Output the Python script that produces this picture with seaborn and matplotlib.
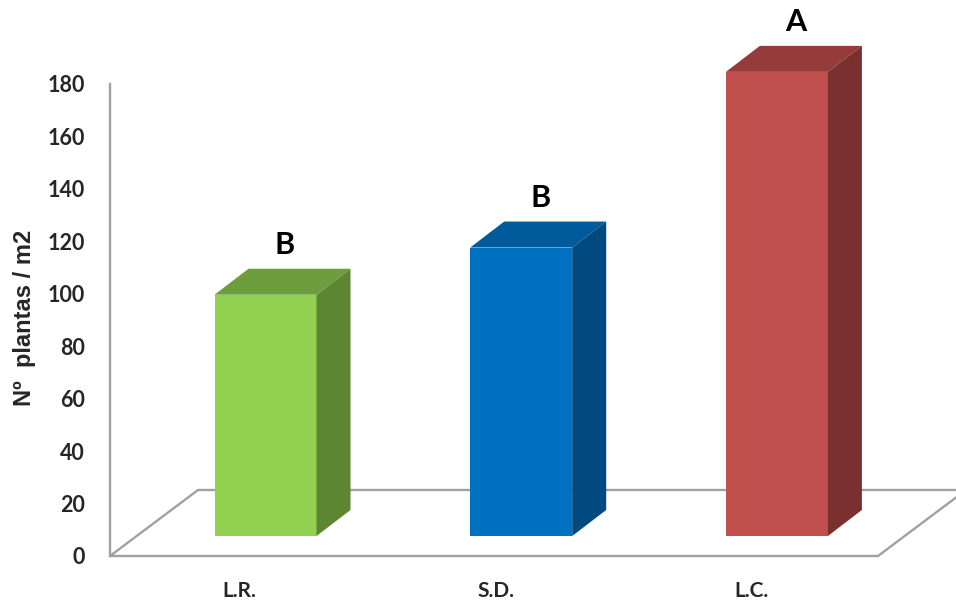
import matplotlib
matplotlib.use("Agg")
import matplotlib.pyplot as plt
import matplotlib.transforms as mtransforms
from matplotlib.patches import Polygon
import seaborn as sns
import pandas as pd

# Plant density per treatment
categories = ["L.R.", "S.D.", "L.C."]
plants = [92, 110, 177]
letters = ["B", "B", "A"]

front_colors = ["#92D050", "#0070C0", "#C0504D"]
top_colors = ["#6E9D3D", "#005A9C", "#953B3A"]
side_colors = ["#5E8532", "#004A80", "#7A302F"]

y_ticks = [0, 20, 40, 60, 80, 100, 120, 140, 160, 180]

df = pd.DataFrame({"tratamiento": categories, "plantas": plants})

sns.set_theme(style="white")
plt.rcParams["font.family"] = ["Lato", "DejaVu Sans"]

W, H = 956, 600
fig = plt.figure(figsize=(W / 100, H / 100), dpi=100)

# axes box in pixels: left spine at x=110, value 0 at y=556
ax_left, ax_bottom = 110, 44
ax_w, ax_h = W - ax_left, H - ax_bottom
ax = fig.add_axes([ax_left / W, ax_bottom / H, ax_w / W, ax_h / H])

px_per_val = 472 / 180.0
px_per_cat = 255.7
first_center_px = 239.8  # centre of first category on the front plane
x0 = -(first_center_px - ax_left) / px_per_cat


def dcat(px):
    return px / px_per_cat


def dval(px):
    return px / px_per_val


# bars: front faces drawn by seaborn, shifted back into the floor
bar_width = 102 / px_per_cat
sns.barplot(data=df, x="tratamiento", y="plantas", hue="tratamiento",
            palette=front_colors, width=bar_width, legend=False,
            linewidth=0, saturation=1, ax=ax, zorder=3)

ax.set_xlim(x0, x0 + ax_w / px_per_cat)
ax.set_ylim(0, ax_h / px_per_val)

# floor of the 3D box
floor_dx, floor_dy = dcat(88), dval(66)
front_right = x0 + (878 - ax_left) / px_per_cat
floor = Polygon([(x0, 0), (front_right, 0),
                 (front_right + floor_dx, floor_dy), (x0 + floor_dx, floor_dy)],
                closed=True, facecolor="white", edgecolor="#A0A0A0",
                linewidth=1.7, zorder=1, clip_on=False)
ax.add_patch(floor)

shift_dx, shift_dy = dcat(25.7), dval(20)
depth_dx, depth_dy = dcat(34), dval(26)
shift = mtransforms.Affine2D().translate(shift_dx, shift_dy) + ax.transData

bars = sorted([p for p in ax.patches if p is not floor], key=lambda p: p.get_x())
for bar, top_c, side_c, letter in zip(bars, top_colors, side_colors, letters):
    bar.set_transform(shift)
    bar.set_clip_on(False)
    xl = bar.get_x()
    xr = xl + bar.get_width()
    h = bar.get_height()
    top = Polygon([(xl, h), (xr, h), (xr + depth_dx, h + depth_dy),
                   (xl + depth_dx, h + depth_dy)], closed=True,
                  facecolor=top_c, edgecolor="none", transform=shift,
                  zorder=3, clip_on=False)
    side = Polygon([(xr, 0), (xr + depth_dx, depth_dy),
                    (xr + depth_dx, h + depth_dy), (xr, h)], closed=True,
                   facecolor=side_c, edgecolor="none", transform=shift,
                   zorder=3, clip_on=False)
    ax.add_patch(top)
    ax.add_patch(side)
    ax.text(xl + bar.get_width() / 2 + depth_dx / 2 + dcat(2), h + depth_dy + dval(10),
            letter, transform=shift, ha="center", va="bottom",
            fontsize=22, fontweight="bold", color="black", zorder=5)

# axes styling
for s in ["top", "right", "bottom"]:
    ax.spines[s].set_visible(False)
ax.spines["left"].set_color("#A0A0A0")
ax.spines["left"].set_linewidth(1.7)
ax.spines["left"].set_bounds(0, 180)
ax.set_yticks(y_ticks)
ax.set_yticklabels([str(v) for v in y_ticks], fontsize=15.5, fontweight="bold")
ax.tick_params(axis="y", length=0, pad=18)
ax.tick_params(axis="x", length=0, pad=18)
ax.set_xticks(range(len(categories)))
ax.set_xticklabels(categories, fontsize=15, fontweight="bold")
ax.set_xlabel("")
ax.set_ylabel("")
fig.text(25 / W, 1 - 318 / H, "Nº  plantas / m2", rotation=90,
         ha="center", va="center", fontsize=17, fontweight="bold",
         family=["Liberation Sans", "DejaVu Sans"])

fig.savefig("out.png", dpi=100)
